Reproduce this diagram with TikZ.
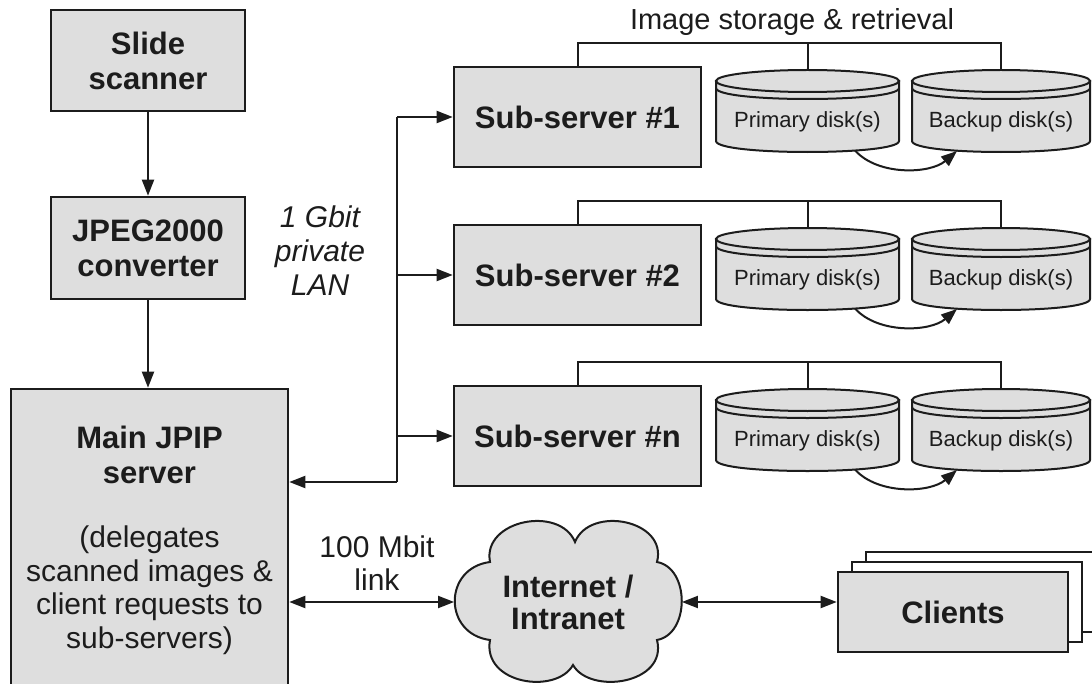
\documentclass[tikz,border=0pt]{standalone}
\usepackage{fontspec}
\setmainfont{Liberation Sans}
\usetikzlibrary{arrows.meta}
\definecolor{boxfill}{RGB}{222,222,222}
\definecolor{ink}{RGB}{28,28,28}
\begin{document}
\begin{tikzpicture}[x=0.5pt,y=-0.5pt,
  box/.style={draw=ink,line width=1.3pt,fill=boxfill,inner sep=0pt},
  wbox/.style={draw=ink,line width=1.3pt,fill=white,inner sep=0pt},
  bt/.style={font=\fontsize{15.5}{17.5}\selectfont\bfseries,align=center,text=ink},
  rt/.style={font=\fontsize{15}{16.75}\selectfont,align=center,text=ink},
  dt/.style={font=\fontsize{11}{13}\selectfont,text=ink,inner sep=0pt},
  conn/.style={draw=ink,line width=1pt},
  arr/.style={conn,-{Triangle[length=8pt,width=6pt]}},
  barr/.style={conn,{Triangle[length=8pt,width=6pt]}-{Triangle[length=8pt,width=6pt]}},
  disk/.style={draw=ink,line width=1pt,fill=boxfill}]
\useasboundingbox (0,0) rectangle (1092,684);

% left column
\node[box,bt,minimum width=97pt,minimum height=50.5pt] (scan) at (148,60.5) {Slide\\scanner};
\node[box,bt,minimum width=97pt,minimum height=51pt] (jpeg) at (148,248) {JPEG2000\\converter};
\node[box,minimum width=138.5pt,minimum height=155.5pt] (main) at (149.5,544.5) {};
\node[bt] (maint) at (149.5,454.5) {Main JPIP\\server};
\node[rt] (maind) at (149.5,590) {(delegates\\scanned images \&\\client requests to\\sub-servers)};
\draw[arr] (scan.south) -- (jpeg.north);
\draw[arr] (jpeg.south) -- (main.north -| jpeg.south);

% labels
\node[rt,font=\fontsize{15}{17}\selectfont\itshape] (lan) at (320,251) {1 Gbit\\private\\LAN};
\node[rt] (mbit) at (377,563) {100 Mbit\\link};
\node[rt,font=\fontsize{14.5}{17}\selectfont] (isr) at (792,22) {Image storage \& retrieval};

% LAN bus
\coordinate (lanTop) at (397,117);
\coordinate (lanBot) at (397,482);
\draw[conn] (lanTop) -- (lanBot);
\draw[arr] (lanBot) -- (main.east |- lanBot);

% sub-server groups
\foreach \i/\dy/\lab in {1/0/1, 2/158/2, 3/319/n} {
  \node[box,bt,minimum width=123.5pt,minimum height=50pt] (s\i) at (577.5,117+\dy) {Sub-server \#\lab};
  \draw[arr] (s\i.west -| lanTop) -- (s\i.west);
  \foreach \cx/\rx/\nm in {807.5/91.5/p, 1001/89/b} {
    \filldraw[disk] (\cx-\rx,81+\dy) -- (\cx-\rx,141+\dy)
      .. controls (\cx-\rx,155.67+\dy) and (\cx+\rx,155.67+\dy) .. (\cx+\rx,141+\dy)
      -- (\cx+\rx,81+\dy) -- cycle;
    \filldraw[disk] (\cx,81+\dy) ellipse [x radius=\rx, y radius=11];
    \draw[disk,fill=none] (\cx-\rx,88+\dy) .. controls (\cx-\rx,102.67+\dy) and (\cx+\rx,102.67+\dy) .. (\cx+\rx,88+\dy);
    \coordinate (\nm top\i) at (\cx,70+\dy);
  }
  \node[dt] (p\i) at (807.5,122+\dy) {Primary disk(s)};
  \node[dt] (b\i) at (1001,122+\dy) {Backup disk(s)};
  \draw[conn] (s\i.north) -- (577.5,43+\dy) -- (1001,43+\dy) -- (btop\i);
  \draw[conn] (807.5,43+\dy) -- (ptop\i);
  \coordinate (pb\i) at (855,150.5+\dy);
  \coordinate (bb\i) at (957,151+\dy);
  \draw[arr] (pb\i) .. controls (878,176+\dy) and (930,174+\dy) .. (bb\i);
}

% internet cloud
\filldraw[disk] (490,562) .. controls (482,520) and (560,505) .. (575,542)
  .. controls (590,505) and (668,520) .. (657,562)
  .. controls (690,568) and (690,634) .. (657,640)
  .. controls (668,684) and (590,695) .. (573,665)
  .. controls (556,695) and (482,684) .. (490,640)
  .. controls (443,634) and (443,568) .. (490,562) -- cycle;
\node[bt,font=\fontsize{15.5}{16}\selectfont\bfseries,inner sep=0pt,
      minimum width=113.5pt,minimum height=80pt] (cloud) at (568,602) {Internet /\\Intranet};
\draw[barr] (main.east |- cloud.west) -- (cloud.west);

% clients
\node[wbox,minimum width=115pt,minimum height=40pt] (cl3) at (981,592) {};
\node[wbox,minimum width=115pt,minimum height=40pt] (cl2) at (967,602) {};
\node[box,bt,minimum width=115pt,minimum height=40pt] (cl1) at (953,612) {Clients};
\draw[barr] (cloud.east) -- (cl1.west |- cloud.east);
\end{tikzpicture}
\end{document}
